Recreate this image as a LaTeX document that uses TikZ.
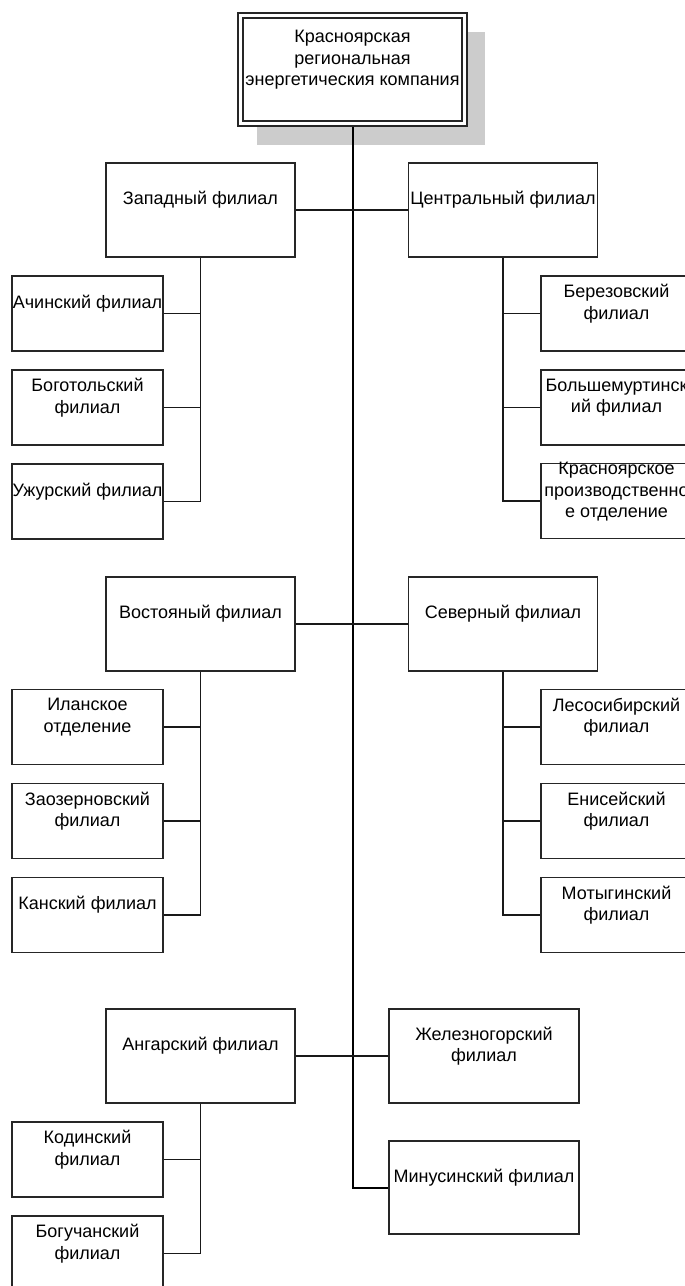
\documentclass[tikz,border=0pt]{standalone}
\usepackage{fontspec}
\setmainfont{Liberation Sans}
\begin{document}
\begin{tikzpicture}[x=1pt,y=-1pt,
  box/.style={draw=black!85, line width=1.3pt, rectangle, inner sep=0pt},
  mainbox/.style={box, minimum width=189pt, minimum height=94pt},
  subbox/.style={box, minimum width=151pt, minimum height=75pt},
  txt/.style={align=center, inner sep=0pt, font=\fontsize{18}{21.5}\selectfont},
  link/.style={line width=1.3pt, draw=black!90},
  trunk/.style={line width=2pt, draw=black}]
\useasboundingbox (0,0) rectangle (685,1286);
\clip (0,0) rectangle (685,1286);
\fill[white] (0,0) rectangle (685,1286);
% top box
\fill[black!20] (257,32) rectangle (485,145);
\node[box, fill=white, minimum width=229pt, minimum height=113pt, line width=1.5pt] (top) at (352.5,69.5) {};
\node[box, minimum width=219pt, minimum height=103pt, line width=1.5pt] (topin) at (352.5,69.5) {};
\node[txt] (topt) at (352.5,60) {Красноярская\\региональная\\энергетическия компания};
% main boxes
\node[mainbox] (zap) at (200.5,210) {};
\node[txt] (zapt) at (200.5,200) {Западный филиал};
\node[mainbox] (cen) at (503,210) {};
\node[txt] (cent) at (503,200) {Центральный филиал};
\node[mainbox] (vos) at (200.5,624) {};
\node[txt] (vost) at (200.5,614) {Востояный филиал};
\node[mainbox] (sev) at (503,624) {};
\node[txt] (sevt) at (503,614) {Северный филиал};
\node[mainbox] (ang) at (200.5,1056) {};
\node[txt] (angt) at (200.5,1046) {Ангарский филиал};
\node[mainbox, minimum width=190pt] (zhel) at (484,1056) {};
\node[txt] (zhelt) at (484,1046) {Железногорский\\филиал};
\node[mainbox, minimum width=190pt, minimum height=93pt] (min) at (484,1187.5) {};
\node[txt] (mint) at (484,1177.5) {Минусинский филиал};
% left sub boxes
\node[subbox] (ach) at (87.5,313.5) {};
\node[txt] (acht) at (87.5,303.5) {Ачинский филиал};
\node[subbox] (bog) at (87.5,407.5) {};
\node[txt] (bogt) at (87.5,397.5) {Боготольский\\филиал};
\node[subbox] (uzh) at (87.5,501.5) {};
\node[txt] (uzht) at (87.5,491.5) {Ужурский филиал};
\node[subbox] (ilan) at (87.5,727) {};
\node[txt] (ilant) at (87.5,717) {Иланское\\отделение};
\node[subbox] (zaoz) at (87.5,821) {};
\node[txt] (zaozt) at (87.5,811) {Заозерновский\\филиал};
\node[subbox] (kan) at (87.5,915) {};
\node[txt] (kant) at (87.5,905) {Канский филиал};
\node[subbox] (kod) at (87.5,1159.5) {};
\node[txt] (kodt) at (87.5,1149.5) {Кодинский\\филиал};
\node[subbox] (bgch) at (87.5,1253.5) {};
\node[txt] (bgcht) at (87.5,1243.5) {Богучанский\\филиал};
% right sub boxes
\node[subbox] (ber) at (616.5,313.5) {};
\node[txt] (bert) at (616.5,303.5) {Березовский\\филиал};
\node[subbox] (bol) at (616.5,407.5) {};
\node[txt] (bolt) at (616.5,397.5) {Большемуртинск\\ий филиал};
\node[subbox] (kra) at (616.5,501) {};
\node[txt] (krat) at (616.5,492) {Красноярское\\производственно\\е отделение};
\node[subbox] (les) at (616.5,727) {};
\node[txt] (lest) at (616.5,717) {Лесосибирский\\филиал};
\node[subbox] (eni) at (616.5,821) {};
\node[txt] (enit) at (616.5,811) {Енисейский\\филиал};
\node[subbox] (mot) at (616.5,915) {};
\node[txt] (mott) at (616.5,905) {Мотыгинский\\филиал};
% trunk
\draw[trunk] (top.south) |- (min.west);
% horizontal links
\draw[link] (zap.east) -- (cen.west);
\draw[link] (vos.east) -- (sev.west);
\draw[link] (ang.east) -- (zhel.west);
% western
\draw[link] (zap.south) |- (uzh.east);
\draw[link] (ach.east) -- (ach.east -| zap.south);
\draw[link] (bog.east) -- (bog.east -| zap.south);
% central
\draw[link] (cen.south) |- (kra.west);
\draw[link] (ber.west) -- (ber.west -| cen.south);
\draw[link] (bol.west) -- (bol.west -| cen.south);
% eastern
\draw[link] (vos.south) |- (kan.east);
\draw[link] (ilan.east) -- (ilan.east -| vos.south);
\draw[link] (zaoz.east) -- (zaoz.east -| vos.south);
% northern
\draw[link] (sev.south) |- (mot.west);
\draw[link] (les.west) -- (les.west -| sev.south);
\draw[link] (eni.west) -- (eni.west -| sev.south);
% angarsky
\draw[link] (ang.south) |- (bgch.east);
\draw[link] (kod.east) -- (kod.east -| ang.south);
\end{tikzpicture}
\end{document}
